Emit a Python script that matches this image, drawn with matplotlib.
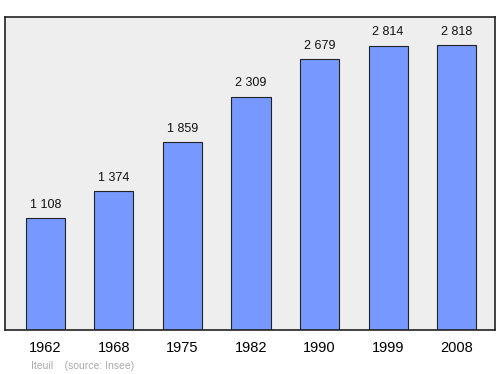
import matplotlib
matplotlib.use("Agg")
import matplotlib.pyplot as plt

years = ["1962", "1968", "1975", "1982", "1990", "1999", "2008"]
population = [1108, 1374, 1859, 2309, 2679, 2814, 2818]
labels = ["1 108", "1 374", "1 859", "2 309", "2 679", "2 814", "2 818"]

plt.rcParams["font.family"] = ["Liberation Sans", "DejaVu Sans"]

fig = plt.figure(figsize=(5, 3.74), dpi=100)
ax = fig.add_axes([5 / 500, 1 - 330 / 374, 490 / 500, 313 / 374])
ax.set_facecolor("#eeeeee")

pos = list(range(len(years)))
ax.bar(pos, population, width=0.57, color="#7799ff", edgecolor="#222222", linewidth=0.8, zorder=2)

for x, y, lab in zip(pos, population, labels):
    ax.annotate(lab, (x, y), xytext=(0, 7.5), textcoords="offset points",
                ha="center", va="baseline", fontsize=9, color="#111111")

ax.set_xlim(-0.59, 6.56)
ax.set_ylim(0, 3096)
ax.set_xticks(pos)
ax.set_xticklabels(years, fontsize=10.5)
ax.set_yticks([])
ax.tick_params(axis="x", length=0, pad=8)
for s in ax.spines.values():
    s.set_color("#222222")
    s.set_linewidth(1.2)

fig.text(31 / 500, 1 - 369 / 374, "Iteuil    (source: Insee)", fontsize=7.5, color="#aaaaaa", va="baseline")

fig.savefig("out.png", dpi=100)
